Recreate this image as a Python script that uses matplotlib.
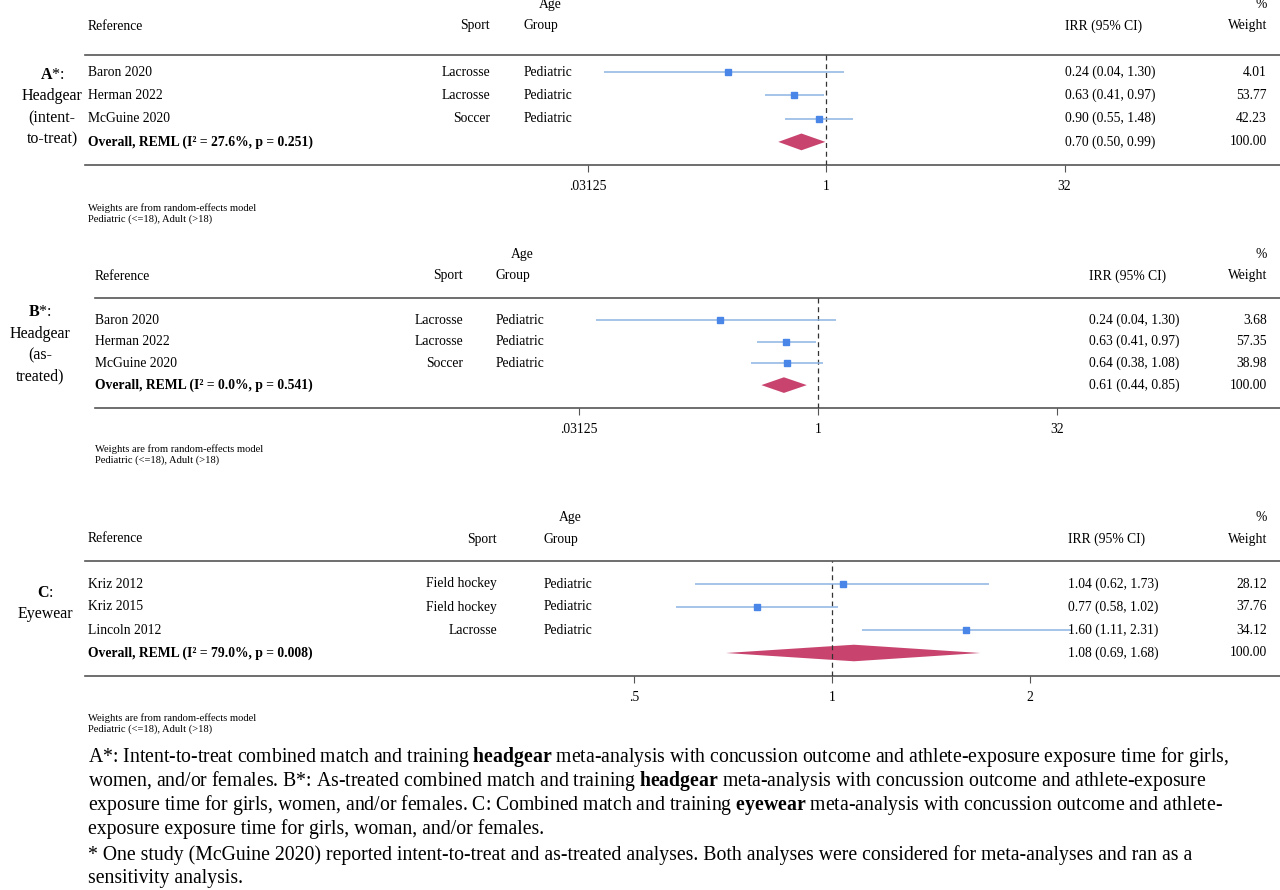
import numpy as np
import matplotlib.pyplot as plt
from matplotlib.transforms import blended_transform_factory

plt.rcParams['font.family'] = ['Liberation Serif', 'DejaVu Serif']
plt.rcParams['mathtext.fontset'] = 'custom'
plt.rcParams['mathtext.rm'] = 'Liberation Serif'
plt.rcParams['mathtext.bf'] = 'Liberation Serif:bold'

# ==================================================
# 0. 数据
# ==================================================
refs_a = ["Baron 2020", "Herman 2022", "McGuine 2020"]
sport_a = ["Lacrosse", "Lacrosse", "Soccer"]
irr_a = [0.24, 0.63, 0.90]
lo_a = [0.04, 0.41, 0.55]
hi_a = [1.30, 0.97, 1.48]
wt_a = ["4.01", "53.77", "42.23"]
overall_a = (0.70, 0.50, 0.99)
overall_label_a = "Overall, REML (I² = 27.6%, p = 0.251)"

refs_b = ["Baron 2020", "Herman 2022", "McGuine 2020"]
sport_b = ["Lacrosse", "Lacrosse", "Soccer"]
irr_b = [0.24, 0.63, 0.64]
lo_b = [0.04, 0.41, 0.38]
hi_b = [1.30, 0.97, 1.08]
wt_b = ["3.68", "57.35", "38.98"]
overall_b = (0.61, 0.44, 0.85)
overall_label_b = "Overall, REML (I² = 0.0%, p = 0.541)"

refs_c = ["Kriz 2012", "Kriz 2015", "Lincoln 2012"]
sport_c = ["Field hockey", "Field hockey", "Lacrosse"]
irr_c = [1.04, 0.77, 1.60]
lo_c = [0.62, 0.58, 1.11]
hi_c = [1.73, 1.02, 2.31]
wt_c = ["28.12", "37.76", "34.12"]
overall_c = (1.08, 0.69, 1.68)
overall_label_c = "Overall, REML (I² = 79.0%, p = 0.008)"

ticks_ab = [0.03125, 1, 32]
ticklabels_ab = [".03125", "1", "32"]
ticks_c = [0.5, 1, 2]
ticklabels_c = [".5", "1", "2"]

# ==================================================
# 1. 版面参数 (像素)
# ==================================================
W, H = 1280, 890
fig = plt.figure(figsize=(12.8, 8.9), dpi=100)

panels = [
    dict(refs=refs_a, sport=sport_a, irr=irr_a, lo=lo_a, hi=hi_a, wt=wt_a, ov=overall_a, ovl=overall_label_a,
         ticks=ticks_ab, tl=ticklabels_ab, left=85, top=55, bottom=165, row0=72, step=23.3, hdr_gap=29,
         ref_x=88, sport_x=490, age_x=524, irr_x=1065, center=826, unit=47.7, foot=208,
         side=["$\\mathbf{A}$*:", "Headgear", "(intent-", "to-treat)"], side_x=52, side_y=75),
    dict(refs=refs_b, sport=sport_b, irr=irr_b, lo=lo_b, hi=hi_b, wt=wt_b, ov=overall_b, ovl=overall_label_b,
         ticks=ticks_ab, tl=ticklabels_ab, left=95, top=298, bottom=408, row0=320, step=21.7, hdr_gap=22,
         ref_x=95, sport_x=463, age_x=496, irr_x=1089, center=818, unit=47.8, foot=449,
         side=["$\\mathbf{B}$*:", "Headgear", "(as-", "treated)"], side_x=40, side_y=312),
    dict(refs=refs_c, sport=sport_c, irr=irr_c, lo=lo_c, hi=hi_c, wt=wt_c, ov=overall_c, ovl=overall_label_c,
         ticks=ticks_c, tl=ticklabels_c, left=85, top=561, bottom=676, row0=584, step=23.0, hdr_gap=22,
         ref_x=88, sport_x=497, age_x=544, irr_x=1068, center=832, unit=198.0, foot=718,
         side=["$\\mathbf{C}$:", "Eyewear"], side_x=45, side_y=593),
]

fs = 9.8
blue = "#4a86e8"
ci_col = "#8db4e2"
pink = "#c8446e"

for p in panels:
    # 表格轴 (整行宽度)
    ax = fig.add_axes([p['left'] / W, 1 - p['bottom'] / H, (W - p['left']) / W, (p['bottom'] - p['top']) / H])
    ytop = (p['top'] - p['row0']) / p['step']
    ybot = (p['bottom'] - p['row0']) / p['step']
    ax.set_ylim(ybot, ytop)
    ax.set_xlim(0, 1)
    ax.set_xticks([])
    ax.set_yticks([])
    for s in ['left', 'right']:
        ax.spines[s].set_visible(False)
    for s in ['top', 'bottom']:
        ax.spines[s].set_color('#555555')
        ax.spines[s].set_linewidth(1.2)
    tr = blended_transform_factory(fig.transFigure, ax.transData)

    # 表头
    hdr = (p['top'] - p['hdr_gap'] - p['row0']) / p['step']
    age = hdr - 21.5 / p['step']
    ax.text(p['ref_x'] / W, hdr, "Reference", transform=tr, fontsize=fs, va='center', ha='left', clip_on=False)
    ax.text(p['sport_x'] / W, hdr, "Sport", transform=tr, fontsize=fs, va='center', ha='right', clip_on=False)
    ax.text(p['age_x'] / W, hdr, "Group", transform=tr, fontsize=fs, va='center', ha='left', clip_on=False)
    ax.text((p['age_x'] + 38) / W, age, "Age", transform=tr, fontsize=fs, va='center', ha='right', clip_on=False)
    ax.text(p['irr_x'] / W, hdr, "IRR (95% CI)", transform=tr, fontsize=fs, va='center', ha='left', clip_on=False)
    ax.text(1267 / W, hdr, "Weight", transform=tr, fontsize=fs, va='center', ha='right', clip_on=False)
    ax.text(1267 / W, age, "%", transform=tr, fontsize=fs, va='center', ha='right', clip_on=False)

    # 研究行
    for i in range(3):
        ax.text(p['ref_x'] / W, i, p['refs'][i], transform=tr, fontsize=fs, va='center')
        ax.text(p['sport_x'] / W, i, p['sport'][i], transform=tr, fontsize=fs, va='center', ha='right')
        ax.text(p['age_x'] / W, i, "Pediatric", transform=tr, fontsize=fs, va='center')
        ax.text(p['irr_x'] / W, i, f"{p['irr'][i]:.2f} ({p['lo'][i]:.2f}, {p['hi'][i]:.2f})",
                transform=tr, fontsize=fs, va='center')
        ax.text(1267 / W, i, p['wt'][i], transform=tr, fontsize=fs, va='center', ha='right')
    ov = p['ov']
    ax.text(p['ref_x'] / W, 3, p['ovl'], transform=tr, fontsize=fs, va='center', fontweight='bold')
    ax.text(p['irr_x'] / W, 3, f"{ov[0]:.2f} ({ov[1]:.2f}, {ov[2]:.2f})", transform=tr, fontsize=fs, va='center')
    ax.text(1267 / W, 3, "100.00", transform=tr, fontsize=fs, va='center', ha='right')

    # 森林图轴 (log2)
    fl, fr = 560, 1100
    fx = fig.add_axes([fl / W, 1 - p['bottom'] / H, (fr - fl) / W, (p['bottom'] - p['top']) / H])
    fx.patch.set_alpha(0)
    fx.set_xscale('log', base=2)
    fx.set_xlim(2 ** ((fl - p['center']) / p['unit']), 2 ** ((fr - p['center']) / p['unit']))
    fx.set_ylim(ybot, ytop)
    for s in ['left', 'right', 'top', 'bottom']:
        fx.spines[s].set_visible(False)
    fx.set_yticks([])
    fx.set_xticks(p['ticks'])
    fx.set_xticklabels(p['tl'], fontsize=fs)
    fx.minorticks_off()
    fx.tick_params(axis='x', length=5, width=0.8, color='#555555', pad=6)
    fx.axvline(1, color='#333333', lw=0.9, ls=(0, (4, 3)))
    ys = np.arange(3)
    fx.hlines(ys, p['lo'], p['hi'], color=ci_col, lw=1.1)
    fx.plot(p['irr'], ys, 's', color=blue, ms=4.5, ls='none')
    fx.fill([ov[1], ov[0], ov[2], ov[0]], [3, 3 - 0.36, 3, 3 + 0.36], color=pink, lw=0)

    # 左侧标签
    for k, s in enumerate(p['side']):
        fig.text(p['side_x'] / W, 1 - (p['side_y'] + 21.5 * k) / H, s, fontsize=11.5, ha='center', va='center')

    # 脚注
    fig.text(p['ref_x'] / W, 1 - p['foot'] / H, "Weights are from random-effects model", fontsize=7.6, va='center')
    fig.text(p['ref_x'] / W, 1 - (p['foot'] + 11) / H, "Pediatric (<=18), Adult (>18)", fontsize=7.6, va='center')

# ==================================================
# 2. 图注
# ==================================================
caption = [
    "A*: Intent-to-treat combined match and training $\\mathbf{headgear}$ meta-analysis with concussion outcome and athlete-exposure exposure time for girls,",
    "women, and/or females. B*: As-treated combined match and training $\\mathbf{headgear}$ meta-analysis with concussion outcome and athlete-exposure",
    "exposure time for girls, women, and/or females. C: Combined match and training $\\mathbf{eyewear}$ meta-analysis with concussion outcome and athlete-",
    "exposure exposure time for girls, woman, and/or females.",
    "* One study (McGuine 2020) reported intent-to-treat and as-treated analyses. Both analyses were considered for meta-analyses and ran as a",
    "sensitivity analysis.",
]
cap_y = [757, 781, 805, 829, 855, 879]
for s, y in zip(caption, cap_y):
    fig.text(88 / W, 1 - y / H, s, fontsize=14.2, va='center', ha='left')

plt.savefig("out.png", dpi=100)
